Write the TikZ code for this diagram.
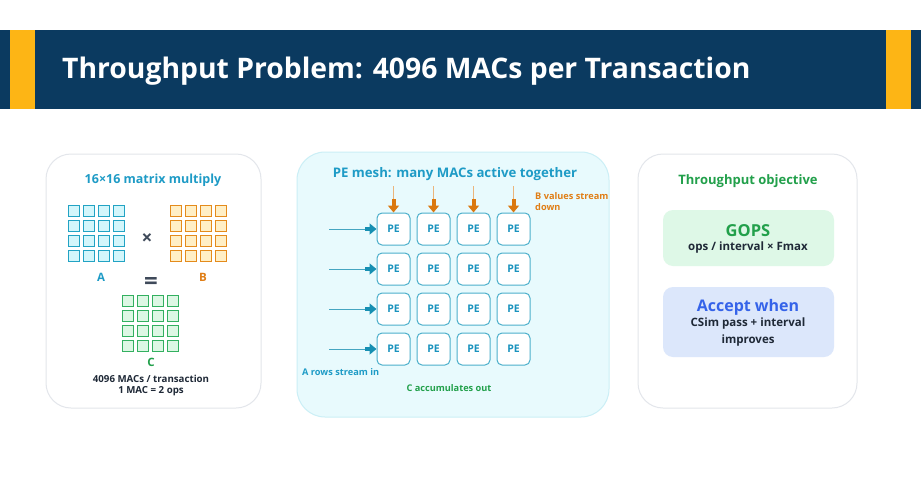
\documentclass[tikz,border=0pt]{standalone}
\usepackage{fontspec}
\setmainfont{Open Sans}
\usetikzlibrary{arrows.meta}
\definecolor{navy}{HTML}{0B3A60}
\definecolor{gold}{HTML}{FDB515}
\definecolor{teal}{HTML}{1E9BC6}
\definecolor{cellAfill}{HTML}{D3F6FB}
\definecolor{cellAline}{HTML}{22A3C4}
\definecolor{cellBfill}{HTML}{FFEFC6}
\definecolor{cellBline}{HTML}{E48B1C}
\definecolor{cellCfill}{HTML}{DDF7E4}
\definecolor{cellCline}{HTML}{33B060}
\definecolor{darktxt}{HTML}{1F2937}
\definecolor{symgray}{HTML}{3F4A5A}
\definecolor{grn}{HTML}{22A04B}
\definecolor{org}{HTML}{DA7810}
\definecolor{orgtxt}{HTML}{E07E16}
\definecolor{panelline}{HTML}{E3E6EB}
\definecolor{meshfill}{HTML}{E8FAFD}
\definecolor{meshline}{HTML}{CBEFF6}
\definecolor{peline}{HTML}{4BAFCB}
\definecolor{petxt}{HTML}{1A93BE}
\definecolor{arrblue}{HTML}{168FB2}
\definecolor{gopsfill}{HTML}{DEF8E7}
\definecolor{accfill}{HTML}{DCE7FB}
\definecolor{accblue}{HTML}{3563E9}
\newcommand{\fs}[1]{\fontsize{#1}{#1}\selectfont}
\begin{document}
\begin{tikzpicture}[x=1pt,y=-1pt,
  panel/.style={draw=panelline, line width=1pt, rounded corners=25pt, fill=white, inner sep=0pt},
  meshpanel/.style={draw=meshline, line width=1pt, rounded corners=28pt, fill=meshfill, inner sep=0pt},
  cellA/.style={draw=cellAline, fill=cellAfill, line width=1.5pt, minimum size=11pt, inner sep=0pt},
  cellB/.style={draw=cellBline, fill=cellBfill, line width=1.5pt, minimum size=11pt, inner sep=0pt},
  cellC/.style={draw=cellCline, fill=cellCfill, line width=1.5pt, minimum size=11pt, inner sep=0pt},
  pebox/.style={draw=peline, fill=white, line width=1pt, rounded corners=5pt, minimum width=33pt, minimum height=32pt, inner sep=0pt, text=petxt, font=\bfseries\fs{10.5}},
  lbl/.style={inner sep=0pt, font=\bfseries\fs{10}},
  ttl/.style={inner sep=0pt, font=\bfseries\fs{12.5}},
  card/.style={rounded corners=10pt, inner sep=0pt, minimum width=171pt},
  othin/.style={line width=1pt, org!55},
  othick/.style={line width=4pt, org, -{Triangle[length=7pt,width=11pt]}},
  bthin/.style={line width=1pt, arrblue!80},
  bthick/.style={line width=4pt, arrblue, -{Triangle[length=7pt,width=11pt]}}
]
\useasboundingbox (0,0) rectangle (921,490);
\fill[white] (0,0) rectangle (921,490);
% header
\fill[navy] (0,30) rectangle (921,109);
\fill[gold] (10,30) rectangle (35,109);
\fill[gold] (886,30) rectangle (911,109);
\node[anchor=base west, inner sep=0pt, text=white, font=\bfseries\fs{28.3}] (title) at (62,78) {Throughput Problem: 4096 MACs per Transaction};

% panels
\node[panel, minimum width=215pt, minimum height=254pt] (pleft) at (153.5,281) {};
\node[meshpanel, minimum width=312pt, minimum height=265pt] (pmid) at (453,284.5) {};
\node[panel, minimum width=219pt, minimum height=254pt] (pright) at (747.5,281) {};

% left panel
\node[ttl, text=teal] (ltitle) at (153,180) {16×16 matrix multiply};
\foreach \i in {0,...,3}{
  \foreach \j in {0,...,3}{
    \node[cellA] (A-\i-\j) at (74+15*\i, 211+15*\j) {};
    \node[cellB] (B-\i-\j) at (176+15*\i, 211+15*\j) {};
    \node[cellC] (C-\i-\j) at (128+15*\i, 301+15*\j) {};
  }
}
\node[lbl, text=symgray, font=\bfseries\fs{19}] (times) at (147,239) {×};
\node[lbl, text=teal, font=\bfseries\fs{11.5}] (labA) at (101,277) {A};
\node[lbl, text=orgtxt, font=\bfseries\fs{11.5}] (labB) at (203,277) {B};
\node[lbl, text=symgray, font=\bfseries\fs{24}] (eq) at (151,283) {=};
\node[lbl, text=grn, font=\bfseries\fs{11.5}] (labC) at (151,362) {C};
\node[lbl, text=darktxt, font=\bfseries\fs{9.7}] (macs) at (151,379) {4096 MACs / transaction};
\node[lbl, text=darktxt, font=\bfseries\fs{9.7}] (ops) at (151,391) {1 MAC = 2 ops};

% middle panel
\node[ttl, text=teal, font=\bfseries\fs{13.2}] (mtitle) at (455,174) {PE mesh: many MACs active together};
\foreach \i in {0,...,3}{
  \foreach \j in {0,...,3}{
    \node[pebox] (PE-\i-\j) at (393.5+40*\i, 229+40*\j) {PE};
  }
}
\foreach \i in {0,...,3}{
  \coordinate (bt-\i) at (393.5+40*\i,186);
  \coordinate (bm-\i) at (393.5+40*\i,199);
  \draw[othin] (bt-\i) -- (bm-\i);
  \draw[othick] (bm-\i) -- (PE-\i-0.north);
}
\foreach \j in {0,...,3}{
  \coordinate (al-\j) at (329,229+40*\j);
  \coordinate (am-\j) at (365,229+40*\j);
  \draw[bthin] (al-\j) -- (am-\j);
  \draw[bthick] (am-\j) -- (PE-0-\j.west);
}
\node[lbl, text=orgtxt, font=\bfseries\fs{9.2}, anchor=north west, align=left] (bstream) at (535,192) {B values stream\\[2pt]down};
\node[lbl, text=teal, font=\bfseries\fs{9.2}, anchor=west] (arows) at (302,372) {A rows stream in};
\node[lbl, text=grn, font=\bfseries\fs{9.2}] (cacc) at (449,388) {C accumulates out};

% right panel
\node[ttl, text=grn, font=\bfseries\fs{13}] (rtitle) at (748,181) {Throughput objective};
\node[card, fill=gopsfill, minimum height=56pt] (gops) at (748.5,238) {};
\node[lbl, text=grn, font=\bfseries\fs{16.5}] (gopst) at (748,231) {GOPS};
\node[lbl, text=darktxt, font=\bfseries\fs{11.5}] (gopsf) at (748,248) {ops / interval × Fmax};
\node[card, fill=accfill, minimum height=70pt] (acc) at (748.5,322) {};
\node[lbl, text=accblue, font=\bfseries\fs{16}] (acct) at (748,307) {Accept when};
\node[lbl, text=darktxt, font=\bfseries\fs{11.5}] (acc1) at (748,324) {CSim pass + interval};
\node[lbl, text=darktxt, font=\bfseries\fs{11.5}] (acc2) at (748,341) {improves};
\end{tikzpicture}
\end{document}
